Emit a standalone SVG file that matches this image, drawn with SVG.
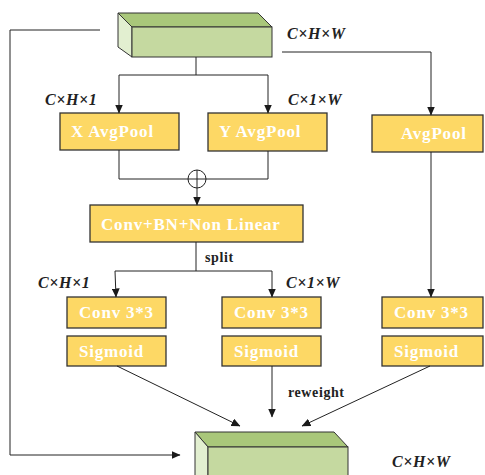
<svg xmlns="http://www.w3.org/2000/svg" width="485" height="475" viewBox="0 0 485 475">
<defs>
<marker id="ah" markerWidth="9" markerHeight="8" refX="8.5" refY="4" orient="auto" markerUnits="userSpaceOnUse">
<path d="M0,0 L9,4 L0,8 Z" fill="#1a1a1a"/>
</marker>
<style>
.box{fill:#FDD865;stroke:#333;stroke-width:1.3}
.bt{font-family:"Liberation Serif",serif;font-weight:bold;font-size:17px;fill:#fff;letter-spacing:0.8px}
.dim{font-family:"Liberation Serif",serif;font-weight:bold;font-style:italic;font-size:16px;fill:#222;letter-spacing:0.6px}
.lbl{font-family:"Liberation Serif",serif;font-weight:bold;font-size:14px;fill:#222;letter-spacing:0.6px}
.ln{fill:none;stroke:#222;stroke-width:1}
.arr{fill:none;stroke:#222;stroke-width:1;marker-end:url(#ah)}
.top{fill:#A9C77A;stroke:#333;stroke-width:1}
.front{fill:#C5D9A0;stroke:#333;stroke-width:1}
.side{fill:#E2EFD0;stroke:#333;stroke-width:1}
</style>
</defs>

<g id="input-tensor">
<polygon class="top" points="118,13 258,13 272,27 132,27"/>
<polygon class="side" points="118,13 132,27 132,57 118,47"/>
<rect class="front" x="132" y="27" width="140" height="30"/>
<text class="dim" x="287" y="39">C×H×W</text>
</g>

<g id="x-avgpool">
<rect class="box" x="60" y="113" width="119" height="37"/>
<text class="bt" x="71" y="137">X AvgPool</text>
<text class="dim" x="45" y="105">C×H×1</text>
</g>

<g id="y-avgpool">
<rect class="box" x="208" y="113" width="119" height="38"/>
<text class="bt" x="219" y="137">Y AvgPool</text>
<text class="dim" x="288" y="105">C×1×W</text>
</g>

<g id="avgpool">
<rect class="box" x="372" y="115" width="111" height="37"/>
<text class="bt" x="401" y="139">AvgPool</text>
</g>

<g id="add">
<circle cx="197" cy="179" r="9" fill="#fff" stroke="#222" stroke-width="1"/>
<line class="ln" x1="188" y1="179" x2="206" y2="179"/>
<line class="ln" x1="197" y1="170" x2="197" y2="188"/>
</g>

<g id="conv-bn">
<rect class="box" x="90" y="205" width="213" height="37"/>
<text class="bt" x="101" y="230">Conv+BN+Non Linear</text>
</g>

<g id="conv-left">
<rect class="box" x="67" y="297" width="99" height="31"/>
<text class="bt" x="79" y="318">Conv 3*3</text>
<text class="dim" x="38" y="288">C×H×1</text>
</g>
<g id="sigmoid-left">
<rect class="box" x="67" y="336" width="99" height="30"/>
<text class="bt" x="79" y="357">Sigmoid</text>
</g>

<g id="conv-mid">
<rect class="box" x="222" y="297" width="99" height="31"/>
<text class="bt" x="234" y="318">Conv 3*3</text>
<text class="dim" x="286" y="288">C×1×W</text>
</g>
<g id="sigmoid-mid">
<rect class="box" x="222" y="336" width="99" height="30"/>
<text class="bt" x="234" y="357">Sigmoid</text>
</g>

<g id="conv-right">
<rect class="box" x="382" y="297" width="101" height="31"/>
<text class="bt" x="394" y="318">Conv 3*3</text>
</g>
<g id="sigmoid-right">
<rect class="box" x="382" y="336" width="101" height="30"/>
<text class="bt" x="394" y="357">Sigmoid</text>
</g>

<g id="output-tensor">
<polygon class="top" points="195,432 334,432 348,447 208,447"/>
<polygon class="side" points="195,432 208,447 208,480 195,480"/>
<rect class="front" x="208" y="447" width="140" height="35"/>
<text class="dim" x="392" y="467">C×H×W</text>
</g>

<g id="connectors">
<polyline class="ln" points="196,57 196,75"/>
<polyline class="ln" points="119,75 268,75"/>
<line class="arr" x1="119" y1="75" x2="119" y2="113"/>
<line class="arr" x1="268" y1="75" x2="268" y2="113"/>
<polyline class="arr" points="282,52 431,52 431,115"/>
<polyline class="ln" points="119,150 119,179 188,179"/>
<polyline class="ln" points="268,151 268,179 206,179"/>
<line class="arr" x1="197" y1="188" x2="197" y2="205"/>
<polyline class="ln" points="196,242 196,271"/>
<polyline class="arr" points="196,271 115,271 116,297"/>
<polyline class="arr" points="196,271 272,271 272,297"/>
<text class="lbl" x="205" y="262">split</text>
<line class="arr" x1="431" y1="152" x2="431" y2="297"/>
<line class="arr" x1="117" y1="366" x2="240" y2="426"/>
<line class="arr" x1="272" y1="366" x2="272" y2="417"/>
<line class="arr" x1="430" y1="366" x2="302" y2="426"/>
<text class="lbl" x="288" y="397">reweight</text>
<polyline class="arr" points="100,30 10,30 10,455 180,455"/>
</g>
</svg>
